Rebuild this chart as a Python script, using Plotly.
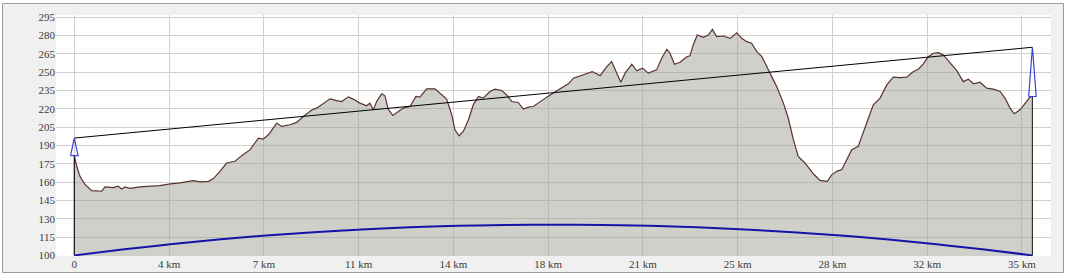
import plotly.graph_objects as go

# ---- data ----
dist_km = [0, 0.09, 0.21, 0.40, 0.65, 1.02, 1.14, 1.45, 1.63, 1.76,
           1.88, 2.07, 2.44, 2.81, 3.18, 3.56, 3.93, 4.42, 4.67, 4.98,
           5.16, 5.41, 5.66, 5.97, 6.22, 6.53, 6.84, 7.02, 7.21, 7.52,
           7.70, 8.01, 8.26, 8.51, 8.82, 9.00, 9.25, 9.50, 9.75, 9.93,
           10.18, 10.36, 10.61, 10.86, 10.98, 11.11, 11.23, 11.42, 11.54, 11.66,
           11.83, 12.04, 12.22, 12.47, 12.69, 12.84, 13.09, 13.40, 13.59, 13.83,
           14.02, 14.14, 14.29, 14.45, 14.64, 14.82, 15.01, 15.19, 15.44, 15.63,
           15.88, 16.06, 16.25, 16.49, 16.68, 16.87, 17.05, 17.30, 17.55, 17.79,
           18.04, 18.35, 18.54, 18.79, 19.03, 19.24, 19.53, 19.78, 19.96, 20.15,
           20.30, 20.46, 20.71, 20.89, 21.11, 21.32, 21.63, 21.82, 22.01, 22.13,
           22.29, 22.50, 22.75, 22.87, 22.99, 23.14, 23.37, 23.55, 23.70, 23.86,
           24.11, 24.36, 24.61, 24.79, 24.98, 25.16, 25.35, 25.54, 25.78, 26.09,
           26.34, 26.52, 26.71, 26.89, 27.14, 27.45, 27.70, 27.97, 28.14, 28.32,
           28.51, 28.69, 28.88, 29.12, 29.31, 29.50, 29.68, 29.93, 30.18, 30.42,
           30.67, 30.92, 31.17, 31.35, 31.54, 31.72, 31.91, 32.10, 32.28, 32.53,
           32.78, 33.02, 33.21, 33.40, 33.64, 33.89, 34.14, 34.39, 34.57, 34.76,
           34.91, 35.13, 35.32, 35.50, 35.59]

elev_m = [181.6, 172.9, 164.7, 157.9, 153.0, 152.5, 156.0, 155.5, 156.6, 154.4,
          156.0, 154.9, 156.0, 156.6, 157.1, 158.5, 159.3, 161.2, 160.1, 160.6,
          162.6, 168.8, 175.6, 177.0, 181.6, 186.5, 196.0, 195.2, 198.7, 208.3,
          205.5, 206.9, 208.8, 213.7, 219.0, 220.5, 224.6, 228.1, 226.7, 225.9,
          229.7, 227.9, 224.6, 222.4, 224.6, 219.1, 225.9, 232.2, 230.6, 219.7,
          214.5, 217.8, 220.5, 221.8, 230.0, 229.5, 236.3, 236.3, 232.8, 227.9,
          215.1, 202.8, 197.9, 201.4, 211.0, 223.2, 230.0, 228.7, 234.1, 236.0,
          234.9, 231.4, 225.9, 225.1, 219.7, 221.3, 221.8, 225.9, 229.5, 232.8,
          236.0, 240.4, 245.0, 246.9, 248.3, 250.4, 247.1, 254.5, 258.6, 249.1,
          241.7, 249.1, 256.4, 251.0, 253.2, 249.1, 251.8, 261.3, 268.7, 265.4,
          256.4, 258.0, 262.6, 263.4, 272.2, 280.3, 278.5, 280.3, 285.0, 279.0,
          279.5, 277.6, 282.2, 277.6, 274.9, 273.6, 266.7, 262.6, 252.3, 238.1,
          224.6, 212.4, 194.7, 181.0, 175.6, 166.8, 161.4, 160.6, 166.1, 168.8,
          170.2, 178.3, 186.5, 189.2, 200.1, 212.4, 223.2, 228.7, 239.5, 245.8,
          245.5, 245.8, 250.4, 252.3, 256.7, 262.6, 265.4, 265.9, 264.0, 257.7,
          251.2, 242.2, 244.2, 240.4, 241.7, 236.8, 236.0, 234.1, 228.7, 220.5,
          215.9, 219.1, 224.6, 229.5, 230.0]

curve_km = [0, 1.78, 3.56, 5.34, 7.12, 8.90, 10.68, 12.46, 14.24, 16.02, 17.80,
            19.58, 21.36, 23.13, 24.91, 26.69, 28.47, 30.25, 32.03, 33.81, 35.59]
curve_m = [100, 104.8, 109.1, 113.0, 116.2, 119.0, 121.2, 123.0, 124.2, 124.9, 125.1,
           124.9, 124.2, 123.0, 121.2, 119.0, 116.2, 113.0, 109.1, 104.8, 100]

site_km = [0, 35.59]
site_ground_m = [181.6, 230.0]
site_top_m = [196.0, 270.3]

x_tick_vals = [0, 3.52, 7.04, 10.56, 14.08, 17.60, 21.12, 24.64, 28.16, 31.68, 35.20]
x_tick_text = ["0", "4 km", "7 km", "11 km", "14 km", "18 km", "21 km", "25 km",
               "28 km", "32 km", "35 km"]
y_tick_vals = [100, 115, 130, 145, 160, 175, 190, 205, 220, 235, 250, 265, 280, 295]

Y_BOTTOM = 100

fig = go.Figure()

# terrain
fig.add_trace(go.Scatter(
    x=dist_km, y=elev_m, mode="lines", fill="tozeroy",
    fillcolor="rgba(161,161,151,0.5)",
    line=dict(color="#5a3232", width=1.2), hoverinfo="skip"))

# vertical mast lines (ground to bottom)
for i in range(2):
    fig.add_trace(go.Scatter(
        x=[site_km[i], site_km[i]], y=[Y_BOTTOM, site_ground_m[i]], mode="lines",
        line=dict(color="#111111" if i == 0 else "#333333", width=1.2), hoverinfo="skip"))

# earth curvature
fig.add_trace(go.Scatter(
    x=curve_km, y=curve_m, mode="lines",
    line=dict(color="#1414a8", width=2, shape="spline"), hoverinfo="skip"))

# line of sight
fig.add_trace(go.Scatter(
    x=site_km, y=site_top_m, mode="lines",
    line=dict(color="#000000", width=1), hoverinfo="skip"))

# antenna triangles
hw = 0.14
for i in range(2):
    xs = [site_km[i] - hw, site_km[i], site_km[i] + hw, site_km[i] - hw]
    ys = [site_ground_m[i], site_top_m[i], site_ground_m[i], site_ground_m[i]]
    fig.add_trace(go.Scatter(
        x=xs, y=ys, mode="lines",
        line=dict(color="#4040d4", width=1.2), hoverinfo="skip"))

L, R, T, B = 56, 19, 15, 21
W, H = 1070, 277
pw, ph = W - L - R, H - T - B

fig.update_layout(
    width=W, height=H, autosize=False,
    margin=dict(l=L, r=R, t=T, b=B, pad=0, autoexpand=False),
    paper_bgcolor="white", plot_bgcolor="white",
    showlegend=False,
    font=dict(family="'Liberation Serif', 'Times New Roman', serif", size=11, color="#3a3a3a"),
    shapes=[
        dict(type="rect", xref="paper", yref="paper",
             x0=(2.5 - L) / pw, x1=(1063.5 - L) / pw,
             y0=(H - B - 272.5) / ph, y1=(H - B - 3.5) / ph,
             fillcolor="#f0f0f0", line=dict(color="#9a9a9a", width=1), layer="below"),
        dict(type="rect", xref="paper", yref="paper", x0=0, x1=1, y0=0, y1=1,
             fillcolor="white", line=dict(width=0), layer="below"),
    ],
    xaxis=dict(range=[-0.68, 36.28], tickmode="array", tickvals=x_tick_vals,
               ticktext=x_tick_text, showgrid=True, gridcolor="#d0d0d0", gridwidth=1,
               zeroline=False, showline=False, ticks="", fixedrange=True,
               automargin=False),
    yaxis=dict(range=[99.5, 296.7], tickmode="array", tickvals=y_tick_vals,
               showgrid=True, gridcolor="#d0d0d0", gridwidth=1,
               zeroline=False, showline=False, ticks="", fixedrange=True,
               automargin=False),
)

fig.write_html("out.html", config={"displayModeBar": False})
